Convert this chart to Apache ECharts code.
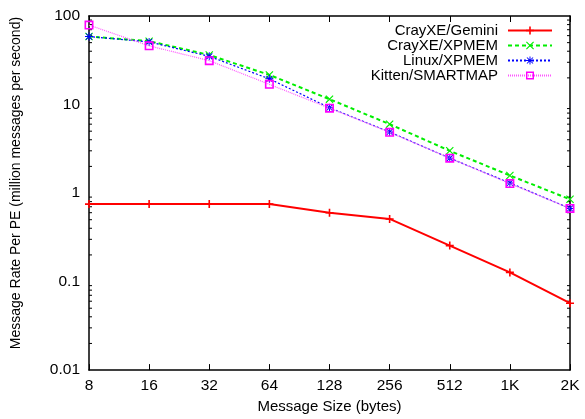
<!DOCTYPE html>
<html>
<head>
<meta charset="utf-8">
<script src="https://cdn.jsdelivr.net/npm/echarts@6/dist/echarts.min.js"></script>
<style>
  html, body { margin: 0; padding: 0; background: #fff; }
  #main { width: 585px; height: 419px; }
</style>
</head>
<body>
<div id="main"></div>
<script>
// message sizes (bytes)
const sizes = ['8', '16', '32', '64', '128', '256', '512', '1K', '2K'];

// million messages per second per PE
const crayGemini = [0.75, 0.75, 0.75, 0.75, 0.60, 0.51, 0.255, 0.127, 0.057];
const crayXpmem = [58.6, 52, 36.3, 21.6, 11.5, 6.0, 3.0, 1.58, 0.85];
const linuxXpmem = [58.6, 51, 35, 19.5, 9.2, 4.9, 2.48, 1.30, 0.67];
const kittenSmartmap = [79, 46, 31.3, 16.9, 9.1, 4.85, 2.48, 1.28, 0.67];

const yTickLabels = ['0.01', '0.1', '1', '10', '100'];
const minorTickValues = [
    0.02, 0.03, 0.04, 0.05, 0.06, 0.07, 0.08, 0.09,
    0.2, 0.3, 0.4, 0.5, 0.6, 0.7, 0.8, 0.9,
    2, 3, 4, 5, 6, 7, 8, 9,
    20, 30, 40, 50, 60, 70, 80, 90
];

const font = 'Liberation Sans, Arial, sans-serif';

// symbol shapes (filled paths)
const plusPath = 'path://M4,0H6V10H4Z M0,4H10V6H0Z';
const crossPath = 'path://M0,1L1,0L10,9L9,10Z M9,0L10,1L1,10L0,9Z';
const starPath = 'path://M4.4,0H5.6V10H4.4Z M0,4.4H10V5.6H0Z M0.8,1.6L1.6,0.8L9.2,8.4L8.4,9.2Z M8.4,0.8L9.2,1.6L1.6,9.2L0.8,8.4Z';
const boxPath = 'path://M0,0H10V10H0Z M1.8,1.8V8.2H8.2V1.8Z';

const chart = echarts.init(document.getElementById('main'));

const axisText = { color: '#000', fontFamily: font, fontSize: 15.5 };

const option = {
    animation: false,
    backgroundColor: '#fff',
    grid: { left: 89, right: 15, top: 16, bottom: 45, containLabel: false },
    legend: {
        data: ['CrayXE/Gemini', 'CrayXE/XPMEM', 'Linux/XPMEM', 'Kitten/SMARTMAP'],
        orient: 'vertical',
        align: 'right',
        right: 27,
        top: 18,
        itemWidth: 44,
        itemHeight: 10,
        itemGap: 0,
        textStyle: { color: '#000', fontFamily: font, fontSize: 15, padding: [0, 5, 0, 0] },
        selectedMode: false
    },
    xAxis: [
        {
            type: 'category',
            data: sizes,
            boundaryGap: false,
            position: 'bottom',
            name: 'Message Size (bytes)',
            nameLocation: 'middle',
            nameGap: 28,
            nameTextStyle: { color: '#000', fontFamily: font, fontSize: 15 },
            axisLine: { lineStyle: { color: '#000', width: 1.5 } },
            axisTick: { inside: true, length: 6, lineStyle: { color: '#000', width: 1 } },
            axisLabel: Object.assign({ margin: 8 }, axisText),
            splitLine: { show: false }
        },
        {
            type: 'category',
            data: sizes,
            boundaryGap: false,
            position: 'top',
            axisLine: { lineStyle: { color: '#000', width: 1.5 } },
            axisTick: { inside: true, length: 6, lineStyle: { color: '#000', width: 1 } },
            axisLabel: { show: false },
            splitLine: { show: false }
        }
    ],
    yAxis: [
        {
            type: 'log',
            logBase: 10,
            min: 0.01,
            max: 100,
            interval: 1,
            position: 'left',
            name: 'Message Rate Per PE (million messages per second)',
            nameLocation: 'middle',
            nameGap: 66,
            nameTextStyle: { color: '#000', fontFamily: font, fontSize: 14, padding: [0, 0, 0, 20] },
            axisLine: { show: true, lineStyle: { color: '#000', width: 1.5 } },
            axisTick: { inside: true, length: 6, lineStyle: { color: '#000', width: 1 } },
            axisLabel: Object.assign({
                margin: 9,
                formatter: function (v) {
                    const i = Math.round(Math.log10(v)) + 2;
                    return yTickLabels[i] !== undefined ? yTickLabels[i] : '';
                }
            }, axisText),
            splitLine: { show: false }
        },
        {
            type: 'log',
            logBase: 10,
            min: 0.01,
            max: 100,
            interval: 1,
            position: 'right',
            axisLine: { show: true, lineStyle: { color: '#000', width: 1.5 } },
            axisTick: { inside: true, length: 6, lineStyle: { color: '#000', width: 1 } },
            axisLabel: { show: false },
            splitLine: { show: false }
        }
    ],
    series: [
        {
            // gnuplot style minor ticks at 2..9 of each decade
            type: 'custom',
            silent: true,
            z: 1,
            data: minorTickValues.map(v => [0, v]),
            renderItem: function (params, api) {
                const y = api.coord([0, api.value(1)])[1];
                const cs = params.coordSys;
                const st = { stroke: '#000', lineWidth: 1 };
                return {
                    type: 'group',
                    children: [
                        { type: 'line', shape: { x1: cs.x, y1: y, x2: cs.x + 3, y2: y }, style: st },
                        { type: 'line', shape: { x1: cs.x + cs.width - 3, y1: y, x2: cs.x + cs.width, y2: y }, style: st }
                    ]
                };
            }
        },
        {
            name: 'CrayXE/Gemini',
            type: 'line',
            data: crayGemini,
            z: 5,
            symbol: plusPath,
            symbolSize: 8,
            lineStyle: { color: '#ff0000', width: 2 },
            itemStyle: { color: '#ff0000' }
        },
        {
            name: 'CrayXE/XPMEM',
            type: 'line',
            data: crayXpmem,
            z: 4,
            symbol: crossPath,
            symbolSize: 8,
            lineStyle: { color: '#00ee00', width: 2, type: [4, 3] },
            itemStyle: { color: '#00ee00' }
        },
        {
            name: 'Linux/XPMEM',
            type: 'line',
            data: linuxXpmem,
            z: 6,
            symbol: starPath,
            symbolSize: 8,
            lineStyle: { color: '#0000ff', width: 1.2, type: [2, 2] },
            itemStyle: { color: '#0000ff' }
        },
        {
            name: 'Kitten/SMARTMAP',
            type: 'line',
            data: kittenSmartmap,
            z: 7,
            symbol: boxPath,
            symbolSize: 9,
            lineStyle: { color: '#ff55ff', width: 1.2, type: [1, 1] },
            itemStyle: { color: '#ff00ff' }
        }
    ]
};

chart.setOption(option);
</script>
</body>
</html>
